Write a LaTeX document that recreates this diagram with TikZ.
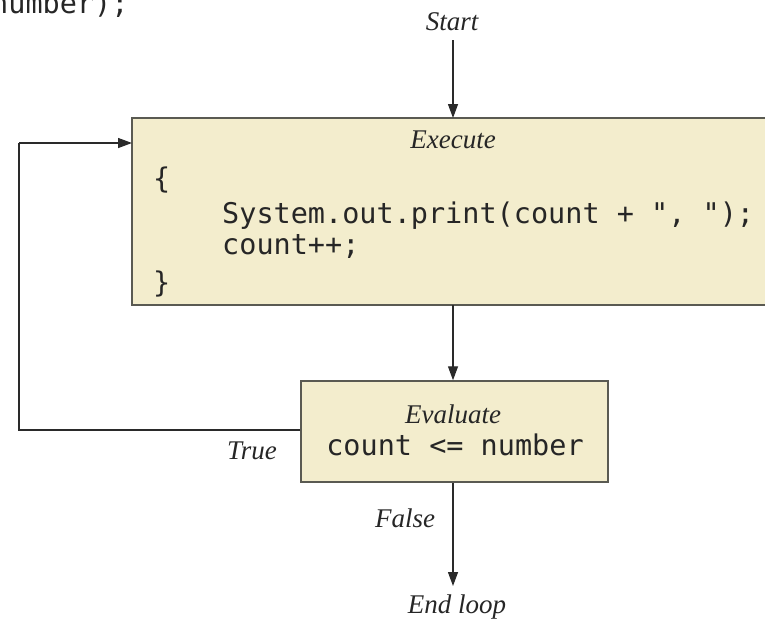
\documentclass[tikz,border=0pt]{standalone}
\usepackage{fontspec}
\setmainfont{Liberation Serif}
\newfontfamily\codefont{DejaVu Sans Mono}
\usetikzlibrary{arrows.meta}
\definecolor{boxfill}{HTML}{F3EDCD}
\definecolor{boxline}{HTML}{5A5A52}
\definecolor{flowline}{HTML}{2A2A2A}
\tikzset{
  block/.style={draw=boxline, line width=1.5pt, fill=boxfill},
  code/.style={font=\codefont\fontsize{28.5}{32}\selectfont, text=black!85, inner sep=0pt, anchor=base west},
  lbl/.style={font=\itshape\fontsize{27}{30}\selectfont, text=black!85, inner sep=0pt, anchor=base},
  flow/.style={draw=flowline, line width=1.3pt},
  arr/.style={flow, -{Triangle[length=14pt,width=10pt]}}
}
\begin{document}
\begin{tikzpicture}[x=1pt,y=-1pt]
  \useasboundingbox (0,0) rectangle (765,619);

  % tail of the preceding source line
  \node[code] (prev) at (-9,13) {number);};

  % loop body
  \path[block] (132,118) rectangle (790,305);
  \coordinate (execTop) at (453,118);
  \coordinate (execBot) at (453,305);
  \coordinate (execLeft) at (132,143);
  \node[lbl] (execLbl) at (453,148) {Execute};
  \node[code] (open) at (153,188) {\{};
  \node[code] (line1) at (222,223) {System.out.print(count + ", ");};
  \node[code] (line2) at (222,254) {count++;};
  \node[code] (close) at (153,292) {\}};

  % loop condition
  \node[block, minimum width=307pt, minimum height=101pt, inner sep=0pt] (eval) at (454.5,431.5) {};
  \node[lbl] (evalLbl) at (453,423) {Evaluate};
  \node[code, anchor=base] (cond) at (455,455) {count <= number};

  % start, end and the back edge
  \node[lbl] (start) at (452,30) {Start};
  \node[lbl] (endl) at (457,613) {End loop};
  \coordinate (startTail) at (453,40);
  \coordinate (corner1) at (19,430);
  \coordinate (corner2) at (19,143);
  \coordinate (endTip) at (453,586);

  \draw[arr] (startTail) -- (execTop);
  \draw[arr] (execBot) -- (execBot |- eval.north);
  \draw[arr] (endTip |- eval.south) -- (endTip);
  \draw[flow] (eval.west |- corner1) -- (corner1) -- (corner2);
  \draw[arr] (corner2) -- (execLeft);

  \node[lbl] (true) at (252,459) {True};
  \node[lbl] (false) at (405,527) {False};
\end{tikzpicture}
\end{document}
